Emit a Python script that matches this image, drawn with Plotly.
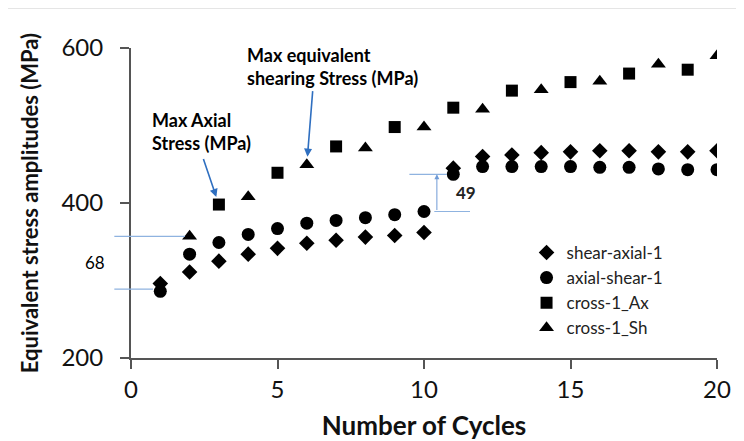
import plotly.graph_objects as go

cycles = list(range(1, 21))
shear_axial_1 = [296, 311, 325, 334, 341.5, 348, 352, 356, 358, 362,
                 445, 460, 462, 465, 466, 467.5, 467.5, 466, 466, 467.5]
axial_shear_1 = [286, 334, 349, 359.5, 367, 374, 377.5, 381, 385, 389,
                 437, 447, 447, 447, 447, 446, 446, 444, 443, 443]
cross_ax_cycles = [3, 5, 7, 9, 11, 13, 15, 17, 19]
cross_1_ax = [398, 439, 473, 498, 523, 545, 556, 567, 572]
cross_sh_cycles = [2, 4, 6, 8, 10, 12, 14, 16, 18, 20]
cross_1_sh = [357, 408, 449.5, 471, 498, 521, 546, 557, 579, 590]

FONT = "Lato"
BLUE = "#2f6fc0"
LBLUE = "#8fb3e0"

fig = go.Figure()
fig.add_trace(go.Scatter(x=cycles, y=shear_axial_1, mode="markers", name="shear-axial-1",
                         marker=dict(symbol="diamond", size=12, color="black")))
fig.add_trace(go.Scatter(x=cycles, y=axial_shear_1, mode="markers", name="axial-shear-1",
                         marker=dict(symbol="circle", size=13, color="black")))
fig.add_trace(go.Scatter(x=cross_ax_cycles, y=cross_1_ax, mode="markers", name="cross-1_Ax",
                         marker=dict(symbol="square", size=12, color="black")))
fig.add_trace(go.Scatter(x=cross_sh_cycles, y=cross_1_sh, mode="markers", name="cross-1_Sh",
                         marker=dict(symbol="triangle-up", size=13, color="black")))

ann = []
# text callouts
ann.append(dict(x=0.65, y=492, xref="x", yref="y", text="<b>Max Axial<br>Stress (MPa)</b>",
                showarrow=False, xanchor="left", yanchor="middle", align="left",
                font=dict(family=FONT, size=18, color="black")))
ann.append(dict(x=3.89, y=576, xref="x", yref="y", text="<b>Max equivalent<br>shearing Stress (MPa)</b>",
                showarrow=False, xanchor="left", yanchor="middle", align="left",
                font=dict(family=FONT, size=18, color="black")))
# pointing arrows
ann.append(dict(x=cross_ax_cycles[0], y=cross_1_ax[0], xref="x", yref="y", ax=-16, ay=-47,
                text="", showarrow=True, arrowhead=2, arrowsize=1, arrowwidth=1.6,
                arrowcolor=BLUE, standoff=8))
ann.append(dict(x=cross_sh_cycles[2], y=cross_1_sh[2], xref="x", yref="y", ax=6, ay=-75,
                text="", showarrow=True, arrowhead=2, arrowsize=1, arrowwidth=1.6,
                arrowcolor=BLUE, standoff=8))

def line(x0, y0, x1, y1, head=0, side="end", w=1.2, color=LBLUE):
    return dict(x=x1, y=y1, ax=x0, ay=y0, xref="x", yref="y", axref="x", ayref="y",
                text="", showarrow=True, arrowhead=head, arrowside=side, arrowsize=1,
                arrowwidth=w, arrowcolor=color)

# 68 bracket
top68 = cross_1_sh[0]
bot68 = 289
ann.append(line(-0.62, top68, 1.84, top68))
ann.append(line(-0.62, bot68, 0.75, bot68))
ann.append(line(-0.38, bot68, -0.38, top68, head=2, side="end+start", w=1.0, color="#6f9bd6"))
ann.append(dict(x=-0.0614, y=(top68 + bot68) / 2, xref="paper", yref="y", text="68", showarrow=False,
                xanchor="center", yanchor="middle", font=dict(family=FONT, size=17, color="black")))
# 49 bracket
top49 = axial_shear_1[10]
bot49 = axial_shear_1[9]
ann.append(line(9.45, top49, 10.78, top49))
ann.append(line(10.3, bot49, 11.57, bot49))
ann.append(line(10.44, bot49, 10.44, top49, head=2, w=1.0, color="#6f9bd6"))
ann.append(dict(x=11.45, y=(top49 + bot49) / 2, xref="x", yref="y", text="<b>49</b>", showarrow=False,
                xanchor="center", yanchor="middle", font=dict(family=FONT, size=17, color="#222")))

fig.update_layout(
    width=736, height=433,
    margin=dict(l=123, r=27, t=40, b=83),
    paper_bgcolor="white", plot_bgcolor="white",
    font=dict(family=FONT, color="#111"),
    showlegend=True,
    legend=dict(x=0.675, y=0.397, xanchor="left", yanchor="top", bgcolor="rgba(0,0,0,0)",
                font=dict(family=FONT, size=17, color="#222"), tracegroupgap=0,
                itemwidth=30),
    annotations=ann,
    shapes=[dict(type="line", xref="paper", yref="paper", x0=-0.2116, x1=1.05, y0=1.129, y1=1.129,
                 line=dict(color="#dcdcdc", width=1.5))],
)
fig.update_xaxes(range=[0, 20], tickvals=[0, 5, 10, 15, 20], showgrid=False, zeroline=False,
                 automargin=False,
                 showline=True, linecolor="#555", linewidth=2, ticks="outside", ticklen=9,
                 tickwidth=2, tickcolor="#555", tickfont=dict(family=FONT, size=24, color="#111"),
                 ticklabelstandoff=0,
                 title=dict(text="<b>Number of Cycles</b>", font=dict(family=FONT, size=26, color="#111"),
                            standoff=19))
fig.update_yaxes(range=[200, 600], tickvals=[200, 400, 600], showgrid=False, zeroline=False,
                 automargin=False,
                 showline=True, linecolor="#555", linewidth=2, ticks="outside", ticklen=9,
                 tickwidth=2, tickcolor="#555", tickfont=dict(family=FONT, size=24, color="#111"),
                 ticklabelstandoff=12,
                 title=dict(text="<b>Equivalent stress amplitudes (MPa)</b>",
                            font=dict(family=FONT, size=22, color="#111"), standoff=17))

fig.write_html("out.html")
